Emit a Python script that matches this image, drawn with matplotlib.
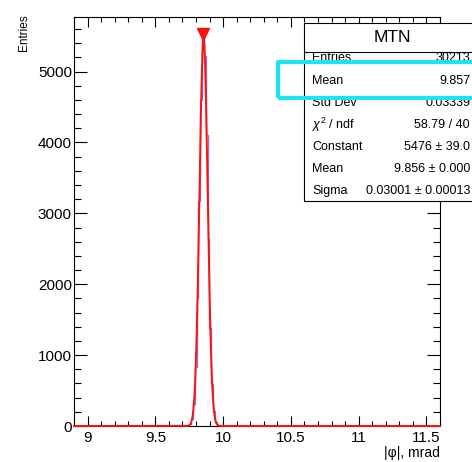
import numpy as np
import matplotlib
matplotlib.use("Agg")
from matplotlib import pyplot as plt
from matplotlib.patches import Rectangle

plt.rcParams['font.family'] = ['Liberation Sans', 'DejaVu Sans']
plt.rcParams['mathtext.fontset'] = 'custom'
plt.rcParams['mathtext.rm'] = 'Liberation Sans'
plt.rcParams['mathtext.it'] = 'Liberation Sans:italic'

# histogram: 200 bins over [8.9, 11.6], only bins 63..78 are filled
n_bins = 200
x_lo, x_hi = 8.9, 11.6
first_bin = 63
bin_counts = [24, 97, 314, 826, 1803, 3178, 4594, 5525,
              5218, 4101, 2633, 1380, 591, 206, 60, 14]

# fit results (gaus)
fit_const = 5476
fit_mean = 9.856
fit_sigma = 0.03001

stat_labels = ["Entries", "Mean", "Std Dev", r"$\chi^2$ / ndf", "Constant", "Mean", "Sigma"]
stat_values = ["30213", "9.857", "0.03339", "58.79 / 40",
               "5476 \u00b1 39.0", "9.856 \u00b1 0.000", "0.03001 \u00b1 0.00013"]

x_ticks = [9, 9.5, 10, 10.5, 11, 11.5]
x_tick_labels = ["9", "9.5", "10", "10.5", "11", "11.5"]
y_ticks = [0, 1000, 2000, 3000, 4000, 5000]

W, H = 472, 462
fig = plt.figure(figsize=(W / 100, H / 100), dpi=100)
ax = fig.add_axes([74 / W, 1 - 426 / H, (440 - 74) / W, (426 - 17) / H])

edges = np.linspace(x_lo, x_hi, n_bins + 1)
counts = np.zeros(n_bins)
counts[first_bin:first_bin + len(bin_counts)] = bin_counts

ax.stairs(counts, edges, color='#7d80d8', lw=1.0, zorder=3)

xs = np.linspace(x_lo, x_hi, 3000)
ax.plot(xs, fit_const * np.exp(-0.5 * ((xs - fit_mean) / fit_sigma) ** 2),
        color='#ff1010', lw=1.4, zorder=4, clip_on=False)

imax = np.argmax(counts)
ax.plot(0.5 * (edges[imax] + edges[imax + 1]), counts[imax], 'v',
        color='#ff1010', ms=8, zorder=5, clip_on=False)

ax.set_xlim(x_lo, x_hi)
ax.set_ylim(0, 5770)
ax.set_xticks(x_ticks)
ax.set_xticklabels(x_tick_labels)
ax.set_xticks(np.arange(8.9, 11.61, 0.1), minor=True)
ax.set_yticks(y_ticks)
ax.set_yticks(np.arange(0, 5701, 200), minor=True)
ax.tick_params(which='both', direction='in', top=True, right=True,
               labelsize=11, width=0.8)
ax.tick_params(axis='x', which='major', length=7, pad=3.5)
ax.tick_params(axis='x', which='minor', length=3.5)
ax.tick_params(axis='y', which='major', length=9.5, pad=1.5)
ax.tick_params(axis='y', which='minor', length=5)
for s in ax.spines.values():
    s.set_linewidth(0.8)

fig.text(24 / W, 1 - 14 / H, "Entries", rotation=90, ha='center', va='top', fontsize=8.5)
fig.text(440 / W, 1 - 453 / H, "|\u03c6|, mrad", ha='right', va='center', fontsize=10)

# stats box
fig.add_artist(Rectangle((304 / W, 1 - 201 / H), 0.5, (201 - 23) / H,
                         transform=fig.transFigure, facecolor='white',
                         edgecolor='black', lw=0.8, zorder=6))
fig.add_artist(plt.Line2D([304 / W, 1.2], [1 - 52 / H, 1 - 52 / H],
                          transform=fig.transFigure, color='black', lw=0.8, zorder=7))
fig.text(392 / W, 1 - 38 / H, "MTN", ha='center', va='center', fontsize=12.5, zorder=8)
row_y = [58, 80.5, 102.5, 124.5, 147, 169, 191]
for lab, val, yp in zip(stat_labels, stat_values, row_y):
    fig.text(312 / W, 1 - yp / H, lab, ha='left', va='center', fontsize=9, zorder=8)
    fig.text(470 / W, 1 - yp / H, val, ha='right', va='center', fontsize=9, zorder=8)

# highlight around the Mean row
fig.add_artist(Rectangle((278 / W, 1 - 98 / H), 0.5, (98 - 62) / H,
                         transform=fig.transFigure, facecolor='none',
                         edgecolor='#1ee4f2', lw=3.0, joinstyle='round', zorder=10))

fig.savefig("out.png", dpi=100)
